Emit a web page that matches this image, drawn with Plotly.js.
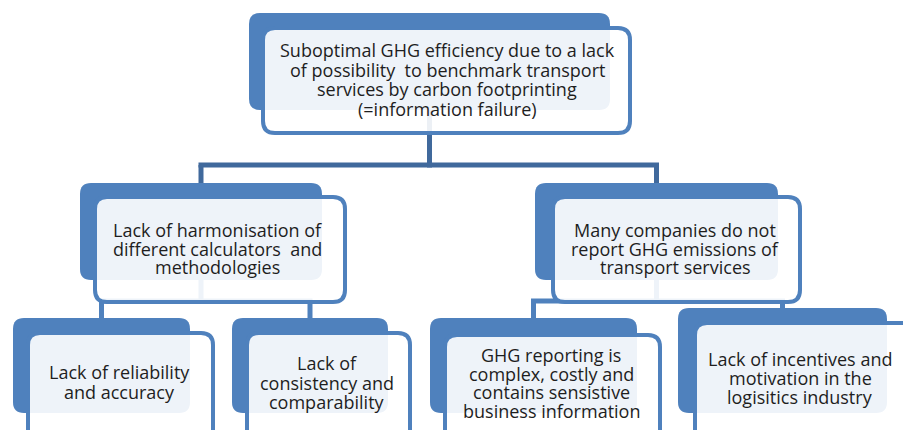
<!DOCTYPE html>
<html>
<head>
<meta charset="utf-8">
<script src="https://cdn.plot.ly/plotly-3.0.1.min.js"></script>
<style>html,body{margin:0;padding:0;background:#fff;}#chart{width:903px;height:430px;}</style>
</head>
<body>
<div id="chart"></div>
<script>
// ---- Data: problem tree texts and structure ----
const rootText = ["Suboptimal GHG efficiency due to a lack", "of possibility  to benchmark transport", "services by carbon footprinting", "(=information failure)"];
const causeTexts = [
  ["Lack of harmonisation of", "different calculators  and", "methodologies"],
  ["Many companies do not", "report GHG emissions of", "transport services"]
];
const subCauseTexts = [
  ["Lack of reliability", "and accuracy"],
  ["Lack of", "consistency and", "comparability"],
  ["GHG reporting is", "complex, costly and", "contains sensistive", "business information"],
  ["Lack of incentives and", "motivation in the", "logisitics industry"]
];
const subCauseParent = [0, 0, 1, 1];

// ---- Layout geometry (pixels in a 903x430 canvas) ----
const geo = {
  root:  {back:[249,13,610,110], front:[263,28,630,133], cx:447, y0:50, dy:19.5},
  cause: [
    {back:[80,183,322,280],  front:[95,197,345,302],  cx:217, y0:230, dy:18.5},
    {back:[535,183,778,280], front:[553,197,800,302], cx:675, y0:230, dy:18.5}
  ],
  sub: [
    {back:[13,318,190,413],  front:[28,333,213,445],  cx:119, y0:372, dy:20},
    {back:[232,318,388,413], front:[247,333,410,445], cx:327, y0:363, dy:19.5},
    {back:[430,318,637,413], front:[445,335,660,445], cx:551, y0:355, dy:18.5},
    {back:[678,308,887,413], front:[695,323,915,445], cx:800, y0:359, dy:19}
  ],
  busRoot: 165,
  busCause: 301
};
const BLUE = '#4f81bd', DARK = '#40699c', TXT = '#1e1e1e';
const FONT = 'Open Sans, Noto Sans, Liberation Sans, sans-serif';

function rr(b, r) {
  const [x0,y0,x1,y1] = b;
  return `M ${x0+r} ${y0} L ${x1-r} ${y0} Q ${x1} ${y0} ${x1} ${y0+r} L ${x1} ${y1-r} Q ${x1} ${y1} ${x1-r} ${y1} L ${x0+r} ${y1} Q ${x0} ${y1} ${x0} ${y1-r} L ${x0} ${y0+r} Q ${x0} ${y0} ${x0+r} ${y0} Z`;
}
const cxBack = g => (g.back[0]+g.back[2])/2;

const shapes = [];
const annotations = [];
function line(x0,y0,x1,y1,color){
  shapes.push({type:'line', xref:'x', yref:'y', x0, y0, x1, y1, line:{color:color, width:5}});
}
// connectors root -> causes
(function(){
  const px = cxBack(geo.root);
  line(px, geo.root.back[3], px, geo.busRoot+2.5, DARK);
  const xs = geo.cause.map(cxBack);
  line(Math.min(...xs)-2.5, geo.busRoot, Math.max(...xs)+2.5, geo.busRoot, DARK);
  geo.cause.forEach(g => line(cxBack(g), geo.busRoot, cxBack(g), g.back[1]+4, DARK));
})();
// connectors causes -> sub causes
causeTexts.forEach((t, ci) => {
  const pg = geo.cause[ci];
  const kids = geo.sub.filter((g, i) => subCauseParent[i] === ci);
  const px = cxBack(pg);
  line(px, pg.back[3], px, geo.busCause+2.5, BLUE);
  const xs = kids.map(cxBack);
  line(Math.min(...xs)-2.5, geo.busCause, Math.max(...xs)+2.5, geo.busCause, BLUE);
  kids.forEach(g => line(cxBack(g), geo.busCause, cxBack(g), g.back[1]+4, BLUE));
});

function box(g, lines) {
  shapes.push({type:'path', xref:'x', yref:'y', path: rr(g.back, 11), fillcolor: BLUE, line:{width:0}});
  shapes.push({type:'path', xref:'x', yref:'y', path: rr(g.front, 12), fillcolor:'rgba(255,255,255,0.9)', line:{color:BLUE, width:4}});
  lines.forEach((s, i) => {
    annotations.push({x:g.cx, y:g.y0 + i*g.dy, xref:'x', yref:'y', text:s, showarrow:false,
      xanchor:'center', yanchor:'middle', font:{family:FONT, size:18, color:TXT}});
  });
}
box(geo.root, rootText);
causeTexts.forEach((t, i) => box(geo.cause[i], t));
subCauseTexts.forEach((t, i) => box(geo.sub[i], t));

const layout = {
  width:903, height:430, margin:{l:0,r:0,t:0,b:0},
  paper_bgcolor:'#ffffff', plot_bgcolor:'#ffffff',
  xaxis:{range:[0,903], visible:false, fixedrange:true},
  yaxis:{range:[430,0], visible:false, fixedrange:true},
  shapes, annotations, showlegend:false
};
Plotly.newPlot('chart', [{x:[], y:[], type:'scatter', hoverinfo:'skip'}], layout, {displayModeBar:false, staticPlot:true});
</script>
</body>
</html>
